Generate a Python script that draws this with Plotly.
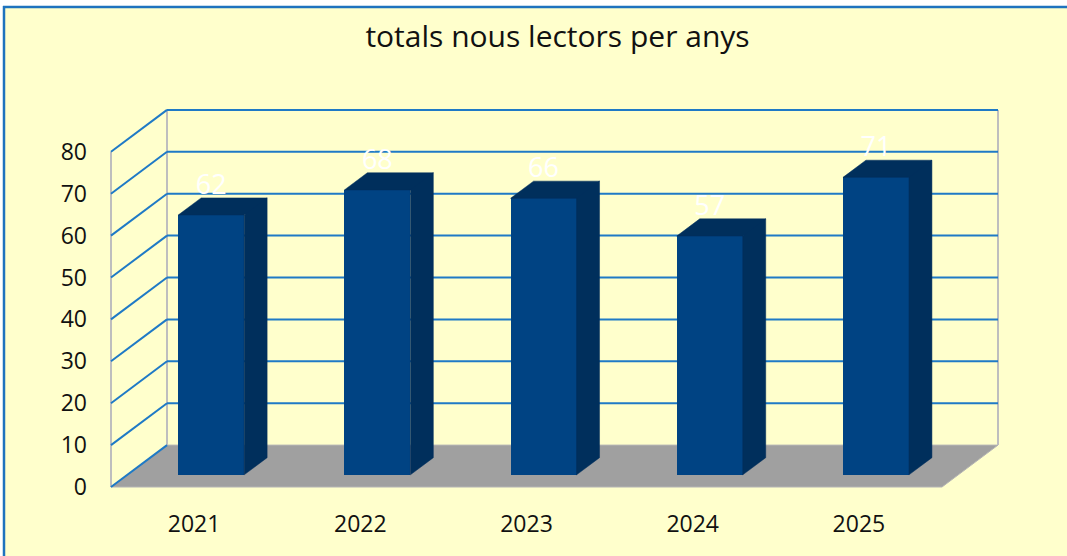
import plotly.graph_objects as go

# ---- data ----
years = ["2021", "2022", "2023", "2024", "2025"]
values = [62, 68, 66, 57, 71]
y_ticks = [0, 10, 20, 30, 40, 50, 60, 70, 80]

# ---- style / geometry constants ----
W, H = 1067, 556
L, R, T, B = 100, 57, 100, 56
BG = "#FFFFCC"
GRID = "#1F7AC6"
EDGE = "#BEBEBE"
FLOOR = "#A0A0A0"
FRONT = "#004383"
DARK = "#002F5C"
FONT = "Open Sans"

DX, DY = 0.337, 10.0          # oblique depth of the whole box (category units, value units)
F0, F1 = 0.29, 0.70           # bar front / back depth fractions
BAR_W = 0.397
LABEL_GAP = 2.5               # data label centre above bar's back top edge (value units)
YMAX = max(y_ticks)
n = len(years)
xl, xr = -0.5, n - 0.5

fig = go.Figure()

# front faces of the bars
xs = [i + F0 * DX + 0.005 for i in range(n)]
base = F0 * DY
fig.add_trace(go.Bar(x=xs, y=values, base=[base] * n, width=BAR_W,
                     marker=dict(color=FRONT, line=dict(width=0)),
                     hoverinfo="skip", showlegend=False))

# side and top faces
ddx, ddy = (F1 - F0) * DX, (F1 - F0) * DY
px, py = [], []
for x, v in zip(xs, values):
    x0, x1 = x - BAR_W / 2, x + BAR_W / 2
    top = base + v
    px += [x0, x1, x1 + ddx, x0 + ddx, x0, None]
    py += [top, top, top + ddy, top + ddy, top, None]
    px += [x1, x1 + ddx, x1 + ddx, x1, x1, None]
    py += [base, base + ddy, top + ddy, top, base, None]
fig.add_trace(go.Scatter(x=px, y=py, mode="lines", fill="toself",
                         fillcolor=DARK, line=dict(width=0.5, color=DARK),
                         hoverinfo="skip", showlegend=False))

# data labels
fig.add_trace(go.Scatter(x=xs, y=[base + v + ddy + LABEL_GAP for v in values],
                         mode="text", text=[str(v) for v in values],
                         textposition="middle center",
                         textfont=dict(family=FONT, size=27, color="white"),
                         hoverinfo="skip", showlegend=False))

shapes = []
# floor
shapes.append(dict(type="path", xref="x", yref="y", layer="below",
                   path=f"M{xl},0 L{xr},0 L{xr+DX},{DY} L{xl+DX},{DY} Z",
                   fillcolor=FLOOR, line=dict(color="#B4B4B4", width=1)))
# wall edges
for (xa, ya, xb, yb) in [(xl, 0, xl, YMAX), (xl + DX, DY, xl + DX, YMAX + DY),
                         (xr + DX, DY, xr + DX, YMAX + DY)]:
    shapes.append(dict(type="line", xref="x", yref="y", layer="below",
                       x0=xa, y0=ya, x1=xb, y1=yb, line=dict(color=EDGE, width=2)))
# gridlines: left wall diagonals and back wall horizontals
for v in y_ticks:
    shapes.append(dict(type="line", xref="x", yref="y", layer="below",
                       x0=xl, y0=v, x1=xl + DX, y1=v + DY,
                       line=dict(color=GRID, width=2)))
    if v > 0:
        shapes.append(dict(type="line", xref="x", yref="y", layer="below",
                           x0=xl + DX, y0=v + DY, x1=xr + DX, y1=v + DY,
                           line=dict(color=GRID, width=2)))

# outer frame (white margin strip + blue border on top/left)
def pxx(p):
    return (p - L) / (W - L - R)

def pxy(p):
    return (H - B - p) / (H - T - B)

shapes.append(dict(type="rect", xref="paper", yref="paper", layer="above",
                   x0=pxx(-5), x1=pxx(W + 5), y0=pxy(-5), y1=pxy(6),
                   fillcolor="white", line=dict(width=0)))
shapes.append(dict(type="rect", xref="paper", yref="paper", layer="above",
                   x0=pxx(-5), x1=pxx(3), y0=pxy(-5), y1=pxy(H + 5),
                   fillcolor="white", line=dict(width=0)))
shapes.append(dict(type="line", xref="paper", yref="paper", layer="above",
                   x0=pxx(3), x1=pxx(W + 5), y0=pxy(7), y1=pxy(7),
                   line=dict(color="#1E73BE", width=2.5)))
shapes.append(dict(type="line", xref="paper", yref="paper", layer="above",
                   x0=pxx(4), x1=pxx(4), y0=pxy(6), y1=pxy(H + 5),
                   line=dict(color="#1E73BE", width=2.5)))

x_lo = -0.5 - (111 - L) / 166.2
x_hi = x_lo + (W - L - R) / 166.2
y_lo = -(H - B - 487) / 4.19
y_hi = y_lo + (H - T - B) / 4.19

fig.update_layout(
    width=W, height=H,
    margin=dict(l=L, r=R, t=T, b=B),
    paper_bgcolor=BG, plot_bgcolor="rgba(0,0,0,0)",
    shapes=shapes,
    title=dict(text="totals nous lectors per anys", x=557.5 / W, xanchor="center",
               y=1 - 36 / H, yanchor="middle", yref="container",
               font=dict(family=FONT, size=30, color="#111111")),
    xaxis=dict(range=[x_lo, x_hi], tickvals=list(range(n)), ticktext=years,
               showgrid=False, zeroline=False, showline=False, ticks="",
               tickfont=dict(family=FONT, size=23, color="#111111"),
               ticklabelstandoff=8),
    yaxis=dict(range=[y_lo, y_hi], tickvals=y_ticks, ticktext=[str(t) for t in y_ticks],
               showgrid=False, zeroline=False, showline=False, ticks="",
               tickfont=dict(family=FONT, size=23, color="#111111"),
               ticklabelstandoff=12),
    bargap=0,
)

fig.write_html("out.html", config={"displayModeBar": False},
               post_script="document.body.style.margin='0';document.body.style.overflow='hidden';")
